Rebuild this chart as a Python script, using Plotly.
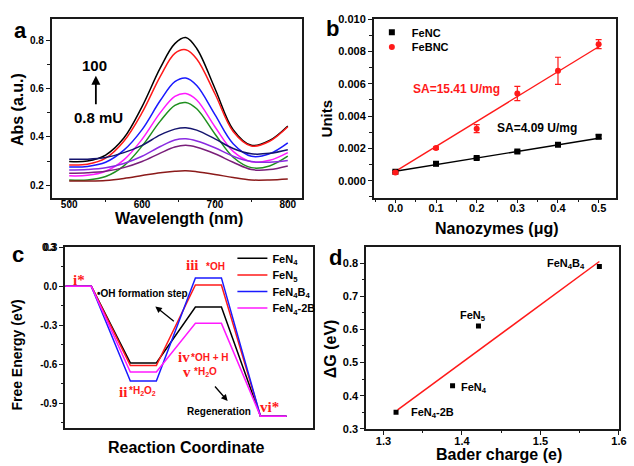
import plotly.graph_objects as go

W, H = 634, 466

# ---------------- Panel a data ----------------
wavelength = [500, 525, 550, 575, 600, 625, 645, 660, 675, 700, 725, 750, 775, 800]
abs_black = [0.298, 0.300, 0.325, 0.395, 0.525, 0.685, 0.785, 0.810, 0.765, 0.600, 0.430, 0.365, 0.385, 0.445]
abs_red = [0.284, 0.287, 0.312, 0.382, 0.500, 0.650, 0.745, 0.760, 0.722, 0.578, 0.422, 0.362, 0.382, 0.442]
abs_blue = [0.276, 0.278, 0.295, 0.345, 0.430, 0.550, 0.628, 0.643, 0.612, 0.492, 0.372, 0.320, 0.330, 0.375]
abs_magenta = [0.239, 0.241, 0.258, 0.305, 0.390, 0.500, 0.567, 0.579, 0.552, 0.442, 0.340, 0.297, 0.303, 0.335]
abs_green = [0.222, 0.222, 0.236, 0.280, 0.362, 0.465, 0.530, 0.542, 0.516, 0.412, 0.316, 0.273, 0.280, 0.320]
abs_navy = [0.308, 0.308, 0.315, 0.335, 0.365, 0.408, 0.432, 0.438, 0.428, 0.392, 0.352, 0.330, 0.332, 0.347]
abs_violet = [0.263, 0.265, 0.272, 0.290, 0.320, 0.360, 0.387, 0.392, 0.383, 0.355, 0.320, 0.298, 0.295, 0.302]
abs_purple = [0.250, 0.252, 0.258, 0.273, 0.298, 0.333, 0.358, 0.365, 0.357, 0.330, 0.295, 0.265, 0.265, 0.280]
abs_brown = [0.218, 0.218, 0.220, 0.228, 0.240, 0.252, 0.258, 0.260, 0.256, 0.245, 0.232, 0.222, 0.222, 0.226]
spectra = [abs_black, abs_red, abs_blue, abs_magenta, abs_green, abs_navy, abs_violet, abs_purple, abs_brown]
spectra_colors = ["#000000", "#ff1a1a", "#1a1aff", "#ff1aff", "#1f8f1f", "#14146e", "#8a2be2", "#7a1f7a", "#8b1a1a"]

# ---------------- Panel b data ----------------
nanozymes = [0.0, 0.1, 0.2, 0.3, 0.4, 0.5]
units_fenc = [0.00055, 0.00105, 0.00140, 0.00180, 0.00222, 0.00272]
err_fenc = [0.00006, 0.00012, 0.00006, 0.00008, 0.00008, 0.00012]
units_febnc = [0.00050, 0.00202, 0.00322, 0.00540, 0.00680, 0.00845]
err_febnc = [0.00008, 0.00008, 0.00025, 0.00044, 0.00084, 0.00028]
fit_x = [0.0, 0.5]
fit_fenc = [0.00058, 0.00263]
fit_febnc = [0.00058, 0.00829]

# ---------------- Panel c data ----------------
reaction_coord = [0, 1, 2.5, 3.5, 5, 6, 7.5, 8.5]
G_FeN4 = [0, 0, -0.59, -0.59, -0.16, -0.16, -1.0, -1.0]
G_FeN5 = [0, 0, -0.61, -0.61, 0.01, 0.01, -1.0, -1.0]
G_FeN4B4 = [0, 0, -0.73, -0.73, 0.065, 0.065, -1.0, -1.0]
G_FeN4_2B = [0, 0, -0.66, -0.66, -0.285, -0.285, -1.0, -1.0]
c_names = ["FeN<sub>4</sub>", "FeN<sub>5</sub>", "FeN<sub>4</sub>B<sub>4</sub>", "FeN<sub>4</sub>-2B"]
c_colors = ["#000000", "#ff1a1a", "#1a1aff", "#ff1aff"]
c_ytick_vals = [0.3, 0.0, -0.3, -0.6, -0.9]
c_ytick_text = ["0.3", "0.0", "-0.3", "-0.6", "-0.9"]

# ---------------- Panel d data ----------------
bader = [1.316, 1.388, 1.421, 1.575]
deltaG = [0.35, 0.43, 0.61, 0.79]
d_labels = ["FeN<sub>4</sub>-2B", "FeN<sub>4</sub>", "FeN<sub>5</sub>", "FeN<sub>4</sub>B<sub>4</sub>"]
fit_bader = [1.318, 1.575]
fit_dG = [0.357, 0.805]

SANS = "Liberation Sans"
SERIF = "Liberation Serif"
AX = "#1a1a1a"


def P(px, py):
    return px / W, 1 - py / H


def axis(domain, rng, dtick=None, tick0=None, mdtick=None, mtick0=None, labels=True, size=10, **kw):
    d = dict(domain=domain, range=rng, showline=True, linecolor=AX, linewidth=1.7, mirror=True,
             showgrid=False, zeroline=False, ticks="outside" if (dtick or "tickvals" in kw) else "", ticklen=4,
             tickwidth=1.4, tickcolor=AX, showticklabels=labels,
             tickfont=dict(family=SANS, size=size, color="black", weight="bold"))
    if dtick:
        d.update(dtick=dtick, tick0=tick0 if tick0 is not None else 0, tickmode="linear")
    if mdtick:
        d["minor"] = dict(dtick=mdtick, tick0=mtick0 if mtick0 is not None else 0, ticks="outside",
                          ticklen=2.5, tickwidth=1.2, tickcolor=AX)
    d.update(kw)
    return d


fig = go.Figure()

# Panel a
for ys, col in zip(spectra, spectra_colors):
    fig.add_trace(go.Scatter(x=wavelength, y=ys, mode="lines", line=dict(color=col, width=1.5, shape="spline", smoothing=1.0),
                             xaxis="x", yaxis="y", showlegend=False))

# Panel b
fig.add_trace(go.Scatter(x=fit_x, y=fit_fenc, mode="lines", line=dict(color="black", width=1.4),
                         xaxis="x2", yaxis="y2", showlegend=False))
fig.add_trace(go.Scatter(x=fit_x, y=fit_febnc, mode="lines", line=dict(color="#ff1a1a", width=1.4),
                         xaxis="x2", yaxis="y2", showlegend=False))
fig.add_trace(go.Scatter(x=nanozymes, y=units_fenc, mode="markers", name="FeNC",
                         marker=dict(symbol="square", size=6, color="black"),
                         error_y=dict(type="data", array=err_fenc, color="black", thickness=1.2, width=3),
                         xaxis="x2", yaxis="y2", legend="legend"))
fig.add_trace(go.Scatter(x=nanozymes, y=units_febnc, mode="markers", name="FeBNC",
                         marker=dict(symbol="circle", size=6, color="#ff1a1a"),
                         error_y=dict(type="data", array=err_febnc, color="#ff1a1a", thickness=1.2, width=3),
                         xaxis="x2", yaxis="y2", legend="legend2"))

# Panel c
for i, (ys, nm, col) in enumerate(zip([G_FeN4, G_FeN5, G_FeN4B4, G_FeN4_2B], c_names, c_colors)):
    fig.add_trace(go.Scatter(x=reaction_coord, y=ys, mode="lines", name=nm, line=dict(color=col, width=1.5),
                             xaxis="x3", yaxis="y3", legend="legend%d" % (i + 3)))

# Panel d
fig.add_trace(go.Scatter(x=fit_bader, y=fit_dG, mode="lines", line=dict(color="#ff1a1a", width=1.5),
                         xaxis="x4", yaxis="y4", showlegend=False))
fig.add_trace(go.Scatter(x=bader, y=deltaG, mode="markers", marker=dict(symbol="square", size=5, color="black"),
                         xaxis="x4", yaxis="y4", showlegend=False))

layout = dict(
    width=W, height=H, margin=dict(l=0, r=0, t=0, b=0),
    paper_bgcolor="white", plot_bgcolor="white",
    font=dict(family=SANS, color="black"),
    xaxis=axis([52.3 / W, 305 / W], [476, 819], dtick=100, tick0=500, mdtick=50, mtick0=500, anchor="y",
               ticklabelstandoff=-7),
    yaxis=axis([1 - 196.7 / H, 1 - 13.3 / H], [0.149, 0.887], dtick=0.2, tick0=0.2, mdtick=0.1, anchor="x"),
    xaxis2=axis([378 / W, 623 / W], [-0.053, 0.543], dtick=0.1, tick0=0, mdtick=0.05, anchor="y2", tickformat=".1f",
                size=11, ticklabelstandoff=-5),
    yaxis2=axis([1 - 196.7 / H, 1 - 13.3 / H], [-0.00105, 0.01001], dtick=0.002, tick0=0, mdtick=0.001, anchor="x2",
                tickformat=".3f", size=11),
    xaxis3=axis([66 / W, 316 / W], [0, 9.5], labels=False, anchor="y3"),
    yaxis3=axis([1 - 433 / H, 1 - 247.7 / H], [-1.09, 0.3005], anchor="x3", tickmode="array",
                tickvals=c_ytick_vals, ticktext=c_ytick_text),
    xaxis4=axis([370.3 / W, 626.3 / W], [1.278, 1.6005], dtick=0.1, tick0=1.3, mdtick=0.05, anchor="y4",
                tickformat=".1f", size=11, ticklabelstandoff=-3),
    yaxis4=axis([1 - 434 / H, 1 - 247.3 / H], [0.2998, 0.849], dtick=0.1, tick0=0.3, mdtick=0.05, anchor="x4",
                tickformat=".1f", size=11),
)
layout["yaxis3"]["minor"] = dict(dtick=0.15, tick0=0, ticks="outside", ticklen=2.5, tickwidth=1.2, tickcolor=AX)


def leg(px, py, size=11):
    x, y = P(px, py)
    return dict(x=x, y=y, xanchor="left", yanchor="middle", bgcolor="rgba(0,0,0,0)", borderwidth=0,
                font=dict(family=SANS, size=size, color="black", weight="bold"), itemwidth=30)


layout["legend"] = leg(376, 27)
layout["legend2"] = leg(376, 42)
for i, py in enumerate([259, 276, 293, 310]):
    layout["legend%d" % (i + 3)] = leg(235, py, size=11)

ann = []


def txt(text, px, py, size=12, color="black", bold=True, family=SANS, angle=0, xanchor="center"):
    x, y = P(px, py)
    ann.append(dict(text="<b>%s</b>" % text if bold else text, x=x, y=y, xref="paper", yref="paper",
                    showarrow=False, xanchor=xanchor, yanchor="middle", textangle=angle,
                    font=dict(family=family, size=size, color=color)))


# panel letters
txt("a", 21, 25, 22)
txt("b", 336, 23, 22)
txt("c", 18, 255, 22)
txt("d", 339, 258, 22)

# top tick label of panel c (plotly drops the label that sits on the range end)
txt(c_ytick_text[0], 59, 248, 10, xanchor="right")

# axis titles
txt("Abs (a.u.)", 17, 106, 16, angle=-90)
txt("Wavelength (nm)", 181, 218, 16)
txt("Units", 330, 115, 15, angle=-90)
txt("Nanozymes (μg)", 503, 228, 16)
txt("Free Energy (eV)", 17, 358, 14, angle=-90)
txt("Reaction Coordinate", 189, 453, 16)
txt("ΔG (eV)", 335, 352, 16, angle=-90)
txt("Bader charge (e)", 505, 460, 16)

# panel a
txt("100", 96, 61, 15)
txt("0.8 mU", 100, 114, 15)
ann.append(dict(x=536.6, y=0.652, xref="x", yref="y", ax=0, ay=30, axref="pixel", ayref="pixel", text="",
                showarrow=True, arrowhead=2, arrowsize=1, arrowwidth=1.8, arrowcolor="black"))

# panel b
txt("SA=15.41 U/mg", 462, 85, 12, color="#ff1a1a")
txt("SA=4.09 U/mg", 543, 125, 12)

# panel c
RED = "#ff1a1a"
txt("i*", 80, 281, 15, color=RED, family=SERIF)
txt("iii", 194.5, 266, 15, color=RED, family=SERIF)
txt("*OH", 217.5, 267, 10, color=RED)
txt("ii", 124, 396, 15, color=RED, family=SERIF)
txt("*H<sub>2</sub>O<sub>2</sub>", 144, 395, 10, color=RED)
txt("iv", 186, 360, 15, color=RED, family=SERIF)
txt("*OH + H", 212, 361, 10, color=RED)
txt("v", 189.5, 376, 15, color=RED, family=SERIF)
txt("*H<sub>2</sub>O", 208, 376, 10, color=RED)
txt("vi*", 273, 412, 15, color=RED, family=SERIF)
txt("•OH formation step", 144, 295, 10)
txt("Regeneration", 221, 416, 10)
ann.append(dict(x=3.46, y=-0.155, xref="x3", yref="y3", ax=20, ay=16, text="", showarrow=True,
                arrowhead=2, arrowsize=1, arrowwidth=1.3, arrowcolor="black"))
ann.append(dict(x=6.24, y=-0.883, xref="x3", yref="y3", ax=-14, ay=-16, text="", showarrow=True,
                arrowhead=2, arrowsize=1, arrowwidth=1.3, arrowcolor="black"))

# panel d labels
for lab, (px, py) in zip(d_labels, [(437, 418), (479, 392), (478, 318), (572, 265)]):
    txt(lab, px, py, 11)

layout["annotations"] = ann
fig.update_layout(**layout)
fig.write_html("out.html")
